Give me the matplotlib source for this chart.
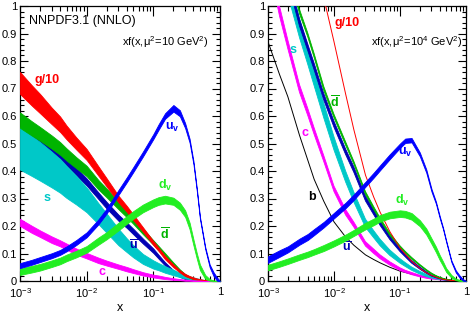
import numpy as np
import matplotlib
matplotlib.use("Agg")
import matplotlib.pyplot as plt
from matplotlib.ticker import FixedLocator, NullFormatter, FixedFormatter

plt.rcParams['font.family'] = ['Liberation Sans', 'DejaVu Sans']
plt.rcParams['mathtext.fontset'] = 'custom'
plt.rcParams['mathtext.rm'] = 'Liberation Sans'
plt.rcParams['mathtext.it'] = 'Liberation Sans'
plt.rcParams['mathtext.bf'] = 'Liberation Sans:bold'

# common x grid
x = [0.001, 0.0015, 0.002, 0.003, 0.004, 0.005, 0.007, 0.01, 0.015, 0.02, 0.03, 0.04,
     0.05, 0.07, 0.1, 0.12, 0.15, 0.2, 0.25, 0.3, 0.35, 0.4, 0.45, 0.5, 0.6, 0.7,
     0.8, 0.9, 1.0]

# ---------------- Q^2 = 10 GeV^2 ----------------
g10_lo = [0.72, 0.675, 0.645, 0.60, 0.57, 0.54, 0.50, 0.46, 0.40, 0.358, 0.298, 0.262,
          0.232, 0.187, 0.138, 0.115, 0.085, 0.055, 0.035, 0.022, 0.015, 0.01, 0.007, 0.005,
          0.002, 0.001, 0.0005, 0.0, 0.0]
g10_lo_err = [0.04, 0.037, 0.035, 0.03, 0.028, 0.025, 0.022, 0.02, 0.017, 0.015, 0.012, 0.011,
              0.01, 0.008, 0.007, 0.006, 0.006, 0.005, 0.004, 0.004, 0.003, 0.003, 0.002, 0.002,
              0.001, 0.001, 0.0, 0.0, 0.0]
dbar_lo = [0.585, 0.555, 0.535, 0.505, 0.482, 0.46, 0.43, 0.40, 0.35, 0.32, 0.275, 0.245,
           0.22, 0.18, 0.14, 0.12, 0.095, 0.062, 0.038, 0.022, 0.014, 0.008, 0.005, 0.003,
           0.001, 0.0, 0.0, 0.0, 0.0]
dbar_lo_err = [0.028, 0.026, 0.025, 0.024, 0.023, 0.022, 0.02, 0.019, 0.017, 0.016, 0.014, 0.013,
               0.012, 0.01, 0.008, 0.007, 0.006, 0.005, 0.004, 0.003, 0.002, 0.002, 0.001, 0.001,
               0.001, 0.0, 0.0, 0.0, 0.0]
ubar_lo = [0.575, 0.542, 0.52, 0.485, 0.46, 0.435, 0.398, 0.36, 0.31, 0.275, 0.23, 0.203,
           0.18, 0.145, 0.11, 0.088, 0.062, 0.035, 0.018, 0.009, 0.005, 0.003, 0.002, 0.001,
           0.0, 0.0, 0.0, 0.0, 0.0]
ubar_lo_err = [0.017, 0.017, 0.016, 0.016, 0.015, 0.015, 0.014, 0.013, 0.012, 0.012, 0.011, 0.01,
               0.01, 0.009, 0.008, 0.007, 0.006, 0.004, 0.003, 0.002, 0.001, 0.001, 0.001, 0.0,
               0.0, 0.0, 0.0, 0.0, 0.0]
s_lo = [0.482, 0.455, 0.435, 0.405, 0.382, 0.36, 0.33, 0.295, 0.245, 0.21, 0.16, 0.13,
        0.108, 0.08, 0.06, 0.052, 0.042, 0.031, 0.022, 0.016, 0.012, 0.009, 0.007, 0.005,
        0.002, 0.001, 0.0, 0.0, 0.0]
s_lo_err = [0.077, 0.073, 0.07, 0.065, 0.061, 0.058, 0.052, 0.045, 0.038, 0.035, 0.03, 0.025,
            0.022, 0.018, 0.015, 0.013, 0.012, 0.01, 0.008, 0.007, 0.005, 0.004, 0.003, 0.002,
            0.001, 0.0005, 0.0, 0.0, 0.0]
c_lo = [0.213, 0.188, 0.172, 0.15, 0.137, 0.125, 0.107, 0.092, 0.075, 0.065, 0.052, 0.043,
        0.036, 0.026, 0.018, 0.015, 0.011, 0.007, 0.005, 0.003, 0.002, 0.0015, 0.001, 0.0008,
        0.0, 0.0, 0.0, 0.0, 0.0]
c_lo_err = [0.013, 0.013, 0.012, 0.012, 0.011, 0.011, 0.011, 0.01, 0.01, 0.009, 0.008, 0.008,
            0.007, 0.006, 0.005, 0.005, 0.004, 0.003, 0.002, 0.002, 0.001, 0.001, 0.001, 0.001,
            0.0, 0.0, 0.0, 0.0, 0.0]
uv_lo = [0.056, 0.068, 0.078, 0.092, 0.104, 0.117, 0.14, 0.168, 0.215, 0.255, 0.322, 0.368,
         0.405, 0.462, 0.525, 0.56, 0.60, 0.628, 0.61, 0.565, 0.51, 0.43, 0.33, 0.23,
         0.12, 0.055, 0.025, 0.007, 0.0]
uv_lo_err = [0.009, 0.009, 0.009, 0.009, 0.009, 0.009, 0.009, 0.009, 0.009, 0.009, 0.009, 0.009,
             0.009, 0.009, 0.009, 0.01, 0.01, 0.012, 0.011, 0.009, 0.007, 0.006, 0.005, 0.004,
             0.004, 0.005, 0.007, 0.006, 0.0]
dv_lo = [0.034, 0.043, 0.05, 0.063, 0.073, 0.084, 0.098, 0.115, 0.145, 0.165, 0.198, 0.222,
         0.24, 0.264, 0.283, 0.291, 0.296, 0.29, 0.272, 0.245, 0.2, 0.14, 0.09, 0.05,
         0.015, 0.004, 0.001, 0.0, 0.0]
dv_lo_err = [0.012, 0.012, 0.012, 0.012, 0.012, 0.012, 0.012, 0.012, 0.013, 0.013, 0.014, 0.014,
             0.014, 0.014, 0.014, 0.014, 0.014, 0.013, 0.013, 0.012, 0.012, 0.011, 0.01, 0.01,
             0.007, 0.003, 0.001, 0.0, 0.0]

# ---------------- Q^2 = 10^4 GeV^2 ----------------
g10_hi = [2.0, 1.78, 1.65, 1.45, 1.32, 1.2, 1.03, 0.87, 0.68, 0.55, 0.385, 0.305,
          0.25, 0.18, 0.12, 0.098, 0.072, 0.046, 0.03, 0.02, 0.014, 0.009, 0.006, 0.004,
          0.002, 0.001, 0.0, 0.0, 0.0]
dbar_hi = [1.45, 1.27, 1.15, 0.98, 0.895, 0.82, 0.70, 0.60, 0.5, 0.43, 0.32, 0.265,
           0.225, 0.17, 0.125, 0.105, 0.083, 0.058, 0.04, 0.027, 0.019, 0.013, 0.009, 0.006,
           0.003, 0.0015, 0.001, 0.0, 0.0]
dbar_hi_err = [0.008, 0.008, 0.008, 0.008, 0.007, 0.007, 0.007, 0.006, 0.006, 0.005, 0.005, 0.005,
               0.004, 0.004, 0.003, 0.003, 0.003, 0.002, 0.002, 0.002, 0.001, 0.001, 0.001, 0.001,
               0.0, 0.0, 0.0, 0.0, 0.0]
ubar_hi = [1.4, 1.21, 1.1, 0.94, 0.85, 0.78, 0.67, 0.57, 0.47, 0.405, 0.30, 0.25,
           0.21, 0.158, 0.113, 0.093, 0.07, 0.047, 0.031, 0.02, 0.014, 0.009, 0.006, 0.004,
           0.002, 0.001, 0.0, 0.0, 0.0]
ubar_hi_err = [0.014, 0.014, 0.013, 0.013, 0.012, 0.012, 0.012, 0.011, 0.01, 0.01, 0.009, 0.009,
               0.008, 0.007, 0.006, 0.005, 0.005, 0.004, 0.003, 0.002, 0.002, 0.001, 0.001, 0.001,
               0.0, 0.0, 0.0, 0.0, 0.0]
s_hi = [1.45, 1.22, 1.08, 0.92, 0.82, 0.74, 0.62, 0.50, 0.38, 0.305, 0.21, 0.17,
        0.14, 0.103, 0.073, 0.06, 0.045, 0.03, 0.02, 0.014, 0.01, 0.007, 0.005, 0.003,
        0.0015, 0.001, 0.0, 0.0, 0.0]
s_hi_err = [0.045, 0.042, 0.04, 0.035, 0.032, 0.03, 0.027, 0.024, 0.02, 0.018, 0.015, 0.013,
            0.012, 0.01, 0.008, 0.007, 0.006, 0.005, 0.004, 0.003, 0.002, 0.002, 0.001, 0.001,
            0.0, 0.0, 0.0, 0.0, 0.0]
c_hi = [1.18, 0.98, 0.86, 0.70, 0.615, 0.545, 0.445, 0.335, 0.25, 0.205, 0.135, 0.108,
        0.088, 0.064, 0.043, 0.035, 0.027, 0.018, 0.012, 0.009, 0.007, 0.005, 0.004, 0.003,
        0.0015, 0.0008, 0.0, 0.0, 0.0]
c_hi_err = [0.02, 0.018, 0.016, 0.014, 0.013, 0.012, 0.011, 0.01, 0.01, 0.009, 0.008, 0.008,
            0.007, 0.006, 0.005, 0.004, 0.004, 0.003, 0.002, 0.002, 0.001, 0.001, 0.001, 0.001,
            0.0, 0.0, 0.0, 0.0, 0.0]
b_hi = [0.87, 0.75, 0.67, 0.53, 0.44, 0.37, 0.29, 0.215, 0.16, 0.13, 0.095, 0.078,
        0.066, 0.05, 0.036, 0.031, 0.025, 0.019, 0.015, 0.012, 0.01, 0.008, 0.006, 0.005,
        0.003, 0.0015, 0.001, 0.0, 0.0]
uv_hi = [0.078, 0.1, 0.115, 0.143, 0.16, 0.178, 0.205, 0.238, 0.275, 0.305, 0.352, 0.385,
         0.412, 0.452, 0.492, 0.51, 0.512, 0.46, 0.40, 0.33, 0.285, 0.232, 0.19, 0.145,
         0.072, 0.035, 0.016, 0.004, 0.0]
uv_hi_err = [0.012, 0.012, 0.011, 0.011, 0.011, 0.011, 0.01, 0.01, 0.01, 0.01, 0.009, 0.009,
             0.009, 0.009, 0.008, 0.008, 0.008, 0.007, 0.006, 0.005, 0.004, 0.004, 0.003, 0.003,
             0.003, 0.004, 0.004, 0.003, 0.0]
dv_hi = [0.049, 0.062, 0.072, 0.087, 0.097, 0.106, 0.12, 0.137, 0.158, 0.175, 0.2, 0.215,
         0.228, 0.24, 0.245, 0.243, 0.235, 0.21, 0.18, 0.145, 0.115, 0.085, 0.062, 0.04,
         0.017, 0.006, 0.002, 0.0005, 0.0]
dv_hi_err = [0.01, 0.01, 0.01, 0.01, 0.01, 0.01, 0.011, 0.011, 0.011, 0.011, 0.012, 0.012,
             0.012, 0.012, 0.012, 0.012, 0.012, 0.011, 0.011, 0.01, 0.01, 0.009, 0.008, 0.007,
             0.005, 0.003, 0.002, 0.001, 0.0]

y_ticks = [0, 0.1, 0.2, 0.3, 0.4, 0.5, 0.6, 0.7, 0.8, 0.9, 1.0]
y_ticklabels = ['0', '0.1', '0.2', '0.3', '0.4', '0.5', '0.6', '0.7', '0.8', '0.9', '1']
x_ticks = [1e-3, 1e-2, 1e-1, 1.0]
x_ticklabels = [r'$10^{-3}$', r'$10^{-2}$', r'$10^{-1}$', '1']

C_G = '#ff0000'
C_UV = '#0000ff'
C_DV = '#22ee22'
C_UBAR = '#0000b4'
C_DBAR = '#00b400'
C_S = '#00c8c8'
C_C = '#ff00ff'
C_B = '#000000'

W, H = 473, 313
fig = plt.figure(figsize=(W / 100, H / 100), dpi=100)


def make_ax(x0, x1):
    top, bot = 6, 281
    ax = fig.add_axes([x0 / W, 1 - bot / H, (x1 - x0) / W, (bot - top) / H])
    ax.set_xscale('log')
    ax.set_xlim(1e-3, 1)
    ax.set_ylim(0, 1)
    ax.xaxis.set_major_locator(FixedLocator(x_ticks))
    ax.xaxis.set_major_formatter(FixedFormatter(x_ticklabels))
    minors = [m * 10.0 ** e for e in (-3, -2, -1) for m in range(2, 10)]
    ax.xaxis.set_minor_locator(FixedLocator(minors))
    ax.xaxis.set_minor_formatter(NullFormatter())
    ax.yaxis.set_major_locator(FixedLocator(y_ticks))
    ax.yaxis.set_major_formatter(FixedFormatter(y_ticklabels))
    ax.yaxis.set_minor_locator(FixedLocator(np.arange(0, 1.001, 0.02)))
    ax.tick_params(which='both', direction='in', top=True, right=True,
                   labelsize=8, width=0.8, colors='black')
    ax.tick_params(axis='x', which='major', length=7, pad=4)
    ax.tick_params(axis='x', which='minor', length=3.5)
    ax.tick_params(axis='y', which='major', length=6, pad=2)
    ax.tick_params(axis='y', which='minor', length=3)
    for sp in ax.spines.values():
        sp.set_linewidth(0.9)
    ax.set_xlabel('x', fontsize=9, labelpad=1)
    return ax, x0, x1


def band(ax, yc, err, color, z):
    yc = np.array(yc)
    e = np.array(err)
    ax.fill_between(x, yc - e, yc + e, color=color, lw=0.6, edgecolor=color, zorder=z)


def label(ax, x0, x1, px, py, txt, color, size=9, bold=True):
    fx = (px - x0) / (x1 - x0)
    fy = (281 - py) / 275
    ax.text(fx, fy, txt, transform=ax.transAxes, color=color, fontsize=size,
            fontweight='bold' if bold else 'normal', ha='center', va='center')


# ---- left panel ----
ax1, a0, a1 = make_ax(20, 220)
band(ax1, ubar_lo, ubar_lo_err, C_UBAR, 2)
band(ax1, s_lo, s_lo_err, C_S, 3)
band(ax1, dbar_lo, dbar_lo_err, C_DBAR, 4)
band(ax1, g10_lo, g10_lo_err, C_G, 5)
band(ax1, c_lo, c_lo_err, C_C, 6)
band(ax1, dv_lo, dv_lo_err, C_DV, 7)
band(ax1, uv_lo, uv_lo_err, C_UV, 8)

ax1.text((29 - a0) / (a1 - a0), (281 - 21) / 275, 'NNPDF3.1 (NNLO)', transform=ax1.transAxes,
         fontsize=9, ha='left', va='center')
ax1.text((209 - a0) / (a1 - a0), (281 - 42) / 275, r'xf(x,$\mu^2$=10 GeV$^2$)',
         transform=ax1.transAxes, fontsize=8, ha='right', va='center')
label(ax1, a0, a1, 47, 80, 'g/10', C_G)
label(ax1, a0, a1, 172, 127, r'$\mathbf{u}_{\mathbf{v}}$', C_UV)
label(ax1, a0, a1, 47, 198, 's', C_S)
label(ax1, a0, a1, 165, 185, r'$\mathbf{d}_{\mathbf{v}}$', C_DV)
label(ax1, a0, a1, 165, 235, r'$\overline{\mathbf{d}}$', C_DBAR)
label(ax1, a0, a1, 134, 246, r'$\overline{\mathbf{u}}$', C_UBAR)
label(ax1, a0, a1, 102, 272, 'c', C_C)

# ---- right panel ----
ax2, b0, b1 = make_ax(268, 466)
ax2.plot(x, b_hi, color=C_B, lw=0.7, zorder=2)
band(ax2, c_hi, c_hi_err, C_C, 3)
band(ax2, s_hi, s_hi_err, C_S, 4)
band(ax2, ubar_hi, ubar_hi_err, C_UBAR, 5)
band(ax2, dbar_hi, dbar_hi_err, C_DBAR, 6)
ax2.plot(x, g10_hi, color=C_G, lw=0.7, zorder=7)
band(ax2, dv_hi, dv_hi_err, C_DV, 8)
band(ax2, uv_hi, uv_hi_err, C_UV, 9)

ax2.text((462 - b0) / (b1 - b0), (281 - 42) / 275, r'xf(x,$\mu^2$=10$^4$ GeV$^2$)',
         transform=ax2.transAxes, fontsize=8, ha='right', va='center')
label(ax2, b0, b1, 347, 23, 'g/10', C_G)
label(ax2, b0, b1, 293, 50, 's', C_S)
label(ax2, b0, b1, 335, 103, r'$\overline{\mathbf{d}}$', C_DBAR)
label(ax2, b0, b1, 305, 133, 'c', C_C)
label(ax2, b0, b1, 405, 152, r'$\mathbf{u}_{\mathbf{v}}$', C_UV)
label(ax2, b0, b1, 347, 248, r'$\overline{\mathbf{u}}$', C_UBAR)
label(ax2, b0, b1, 312, 197, 'b', C_B)
label(ax2, b0, b1, 402, 200, r'$\mathbf{d}_{\mathbf{v}}$', C_DV)

fig.savefig('out.png', dpi=100)
